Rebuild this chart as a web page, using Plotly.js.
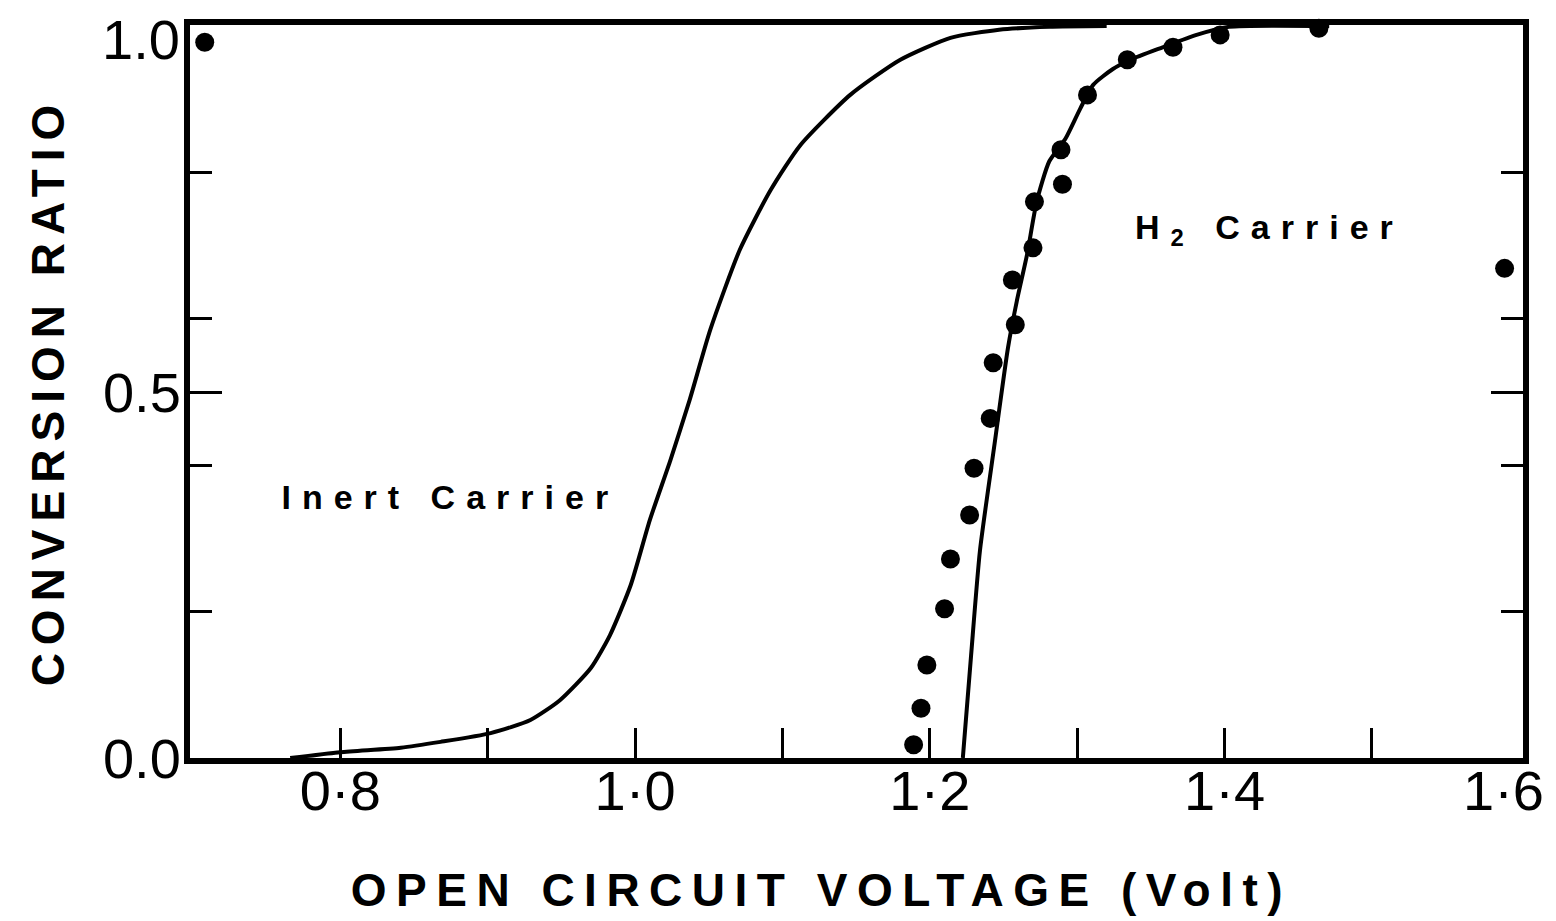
<!DOCTYPE html>
<html>
<head>
<meta charset="utf-8">
<script src="https://cdn.plot.ly/plotly-3.0.1.min.js"></script>
<style>html,body{margin:0;padding:0;background:#fff;}#chart{width:1556px;height:921px;}</style>
</head>
<body>
<div id="chart"></div>
<script>
// Inert carrier curve
const inertVoltage = [0.766, 0.80, 0.841, 0.868, 0.902, 0.929, 0.949, 0.970, 0.983, 0.997, 1.010, 1.024, 1.037, 1.051, 1.071, 1.092, 1.112, 1.146, 1.180, 1.214, 1.247, 1.281, 1.32];
const inertRatio   = [0, 0.008, 0.014, 0.022, 0.034, 0.052, 0.079, 0.123, 0.168, 0.236, 0.325, 0.407, 0.489, 0.585, 0.694, 0.776, 0.837, 0.906, 0.954, 0.984, 0.995, 0.999, 1.0];
// H2 carrier curve
const h2Voltage = [1.2224, 1.228, 1.234, 1.244, 1.253, 1.259, 1.266, 1.2725, 1.281, 1.292, 1.302, 1.311, 1.324, 1.336, 1.358, 1.381, 1.403, 1.471];
const h2Ratio   = [0, 0.14, 0.283, 0.43, 0.56, 0.624, 0.688, 0.760, 0.815, 0.846, 0.887, 0.920, 0.941, 0.954, 0.971, 0.988, 0.999, 1.0];
// Measured points
const dotVoltage = [1.189, 1.194, 1.198, 1.210, 1.214, 1.227, 1.230, 1.241, 1.243, 1.258, 1.256, 1.270, 1.271, 1.290, 1.289, 1.307, 1.334, 1.365, 1.397, 1.464, 1.590, 0.708];
const dotRatio   = [0.018, 0.068, 0.127, 0.204, 0.272, 0.332, 0.396, 0.464, 0.540, 0.592, 0.653, 0.697, 0.760, 0.784, 0.831, 0.906, 0.954, 0.971, 0.988, 0.997, 0.669, 0.978];
// Ticks (the labels at the far ends, 1·6 and 1.0, are drawn as annotations so they stay on the page)
const xTickVals = [0.8, 1.0, 1.2, 1.4];
const xTickText = ['0·8', '1·0', '1·2', '1·4'];
const xEndVal = 1.6, xEndLabel = '1·6';
const xMinorVals = [0.9, 1.1, 1.3, 1.5];
const yTickVals = [0, 0.5];
const yTickText = ['0.0', '0.5'];
const yEndVal = 1.0, yEndLabel = '1.0';
const yMinorVals = [0.2, 0.4, 0.6, 0.8];
const xTitle = 'OPEN CIRCUIT VOLTAGE (Volt)';
const yTitle = 'CONVERSION RATIO';

const tickFont = {family: 'Liberation Sans, Arial, sans-serif', size: 56, color: '#000'};
const boldFont = 'Liberation Sans, Arial, sans-serif';

const traces = [
  {x: inertVoltage, y: inertRatio, mode: 'lines', line: {color: '#000', width: 4, shape: 'spline', smoothing: 0.6}, hoverinfo: 'none', cliponaxis: false},
  {x: h2Voltage, y: h2Ratio, mode: 'lines', line: {color: '#000', width: 4, shape: 'spline', smoothing: 0.6}, hoverinfo: 'none', cliponaxis: false},
  {x: dotVoltage, y: dotRatio, mode: 'markers', marker: {color: '#000', size: 19}, hoverinfo: 'none', cliponaxis: false}
];

const layout = {
  width: 1556, height: 921,
  margin: {l: 190, r: 33, t: 25, b: 163},
  paper_bgcolor: '#fff', plot_bgcolor: '#fff',
  showlegend: false,
  xaxis: {
    range: [0.698, 1.6025], showgrid: false, zeroline: false,
    showline: true, linecolor: '#000', linewidth: 6, mirror: true,
    tickmode: 'array', tickvals: xTickVals, ticktext: xTickText,
    ticks: 'inside', ticklen: 30, tickwidth: 3, tickcolor: '#000',
    minor: {tickmode: 'array', tickvals: xMinorVals, ticks: 'inside', ticklen: 30, tickwidth: 3, tickcolor: '#000', showgrid: false},
    tickfont: tickFont, ticklabelstandoff: -21
  },
  yaxis: {
    range: [0, 1.0015], showgrid: false, zeroline: false,
    showline: true, linecolor: '#000', linewidth: 6, mirror: 'ticks',
    tickmode: 'array', tickvals: yTickVals, ticktext: yTickText,
    ticks: 'inside', ticklen: 32, tickwidth: 3, tickcolor: '#000',
    minor: {tickmode: 'array', tickvals: yMinorVals, ticks: 'inside', ticklen: 22, tickwidth: 3, tickcolor: '#000', showgrid: false},
    tickfont: tickFont, ticklabelstandoff: -8,
    title: {text: yTitle, font: {family: boldFont, size: 46, color: '#000', weight: 'bold'}, standoff: 26}
  },
  annotations: [
    {x: 1.1268, y: -0.18, xref: 'x', yref: 'paper', text: xTitle, showarrow: false, xanchor: 'center', yanchor: 'middle', font: {family: boldFont, size: 46, color: '#000', weight: 'bold'}},
    {x: 0.8746, y: 0.356, xref: 'x', yref: 'y', text: 'Inert Carrier', showarrow: false, xanchor: 'center', yanchor: 'middle', font: {family: boldFont, size: 34, color: '#000', weight: 'bold'}},
    {x: 1.4305, y: 0.722, xref: 'x', yref: 'y', text: 'H<sub>2</sub> Carrier', showarrow: false, xanchor: 'center', yanchor: 'middle', font: {family: boldFont, size: 34, color: '#000', weight: 'bold'}},
    {x: xEndVal, y: 0, xref: 'x', yref: 'paper', text: xEndLabel, showarrow: false, xanchor: 'center', yanchor: 'middle', xshift: -16, yshift: -32, font: tickFont},
    {x: 0, y: yEndVal, xref: 'paper', yref: 'y', text: yEndLabel, showarrow: false, xanchor: 'right', yanchor: 'middle', xshift: -8, yshift: -13, font: tickFont}
  ]
};

Plotly.newPlot('chart', traces, layout, {displayModeBar: false, staticPlot: true}).then(function () {
  document.querySelectorAll('.g-ytitle text').forEach(function (t) { t.style.letterSpacing = '8px'; });
  document.querySelectorAll('.annotation-text').forEach(function (t) {
    const s = t.textContent;
    if (s.indexOf('OPEN') === 0) t.style.letterSpacing = '9.5px';
    else if (s.indexOf('Carrier') >= 0) t.style.letterSpacing = '11px';
  });
});
</script>
</body>
</html>
